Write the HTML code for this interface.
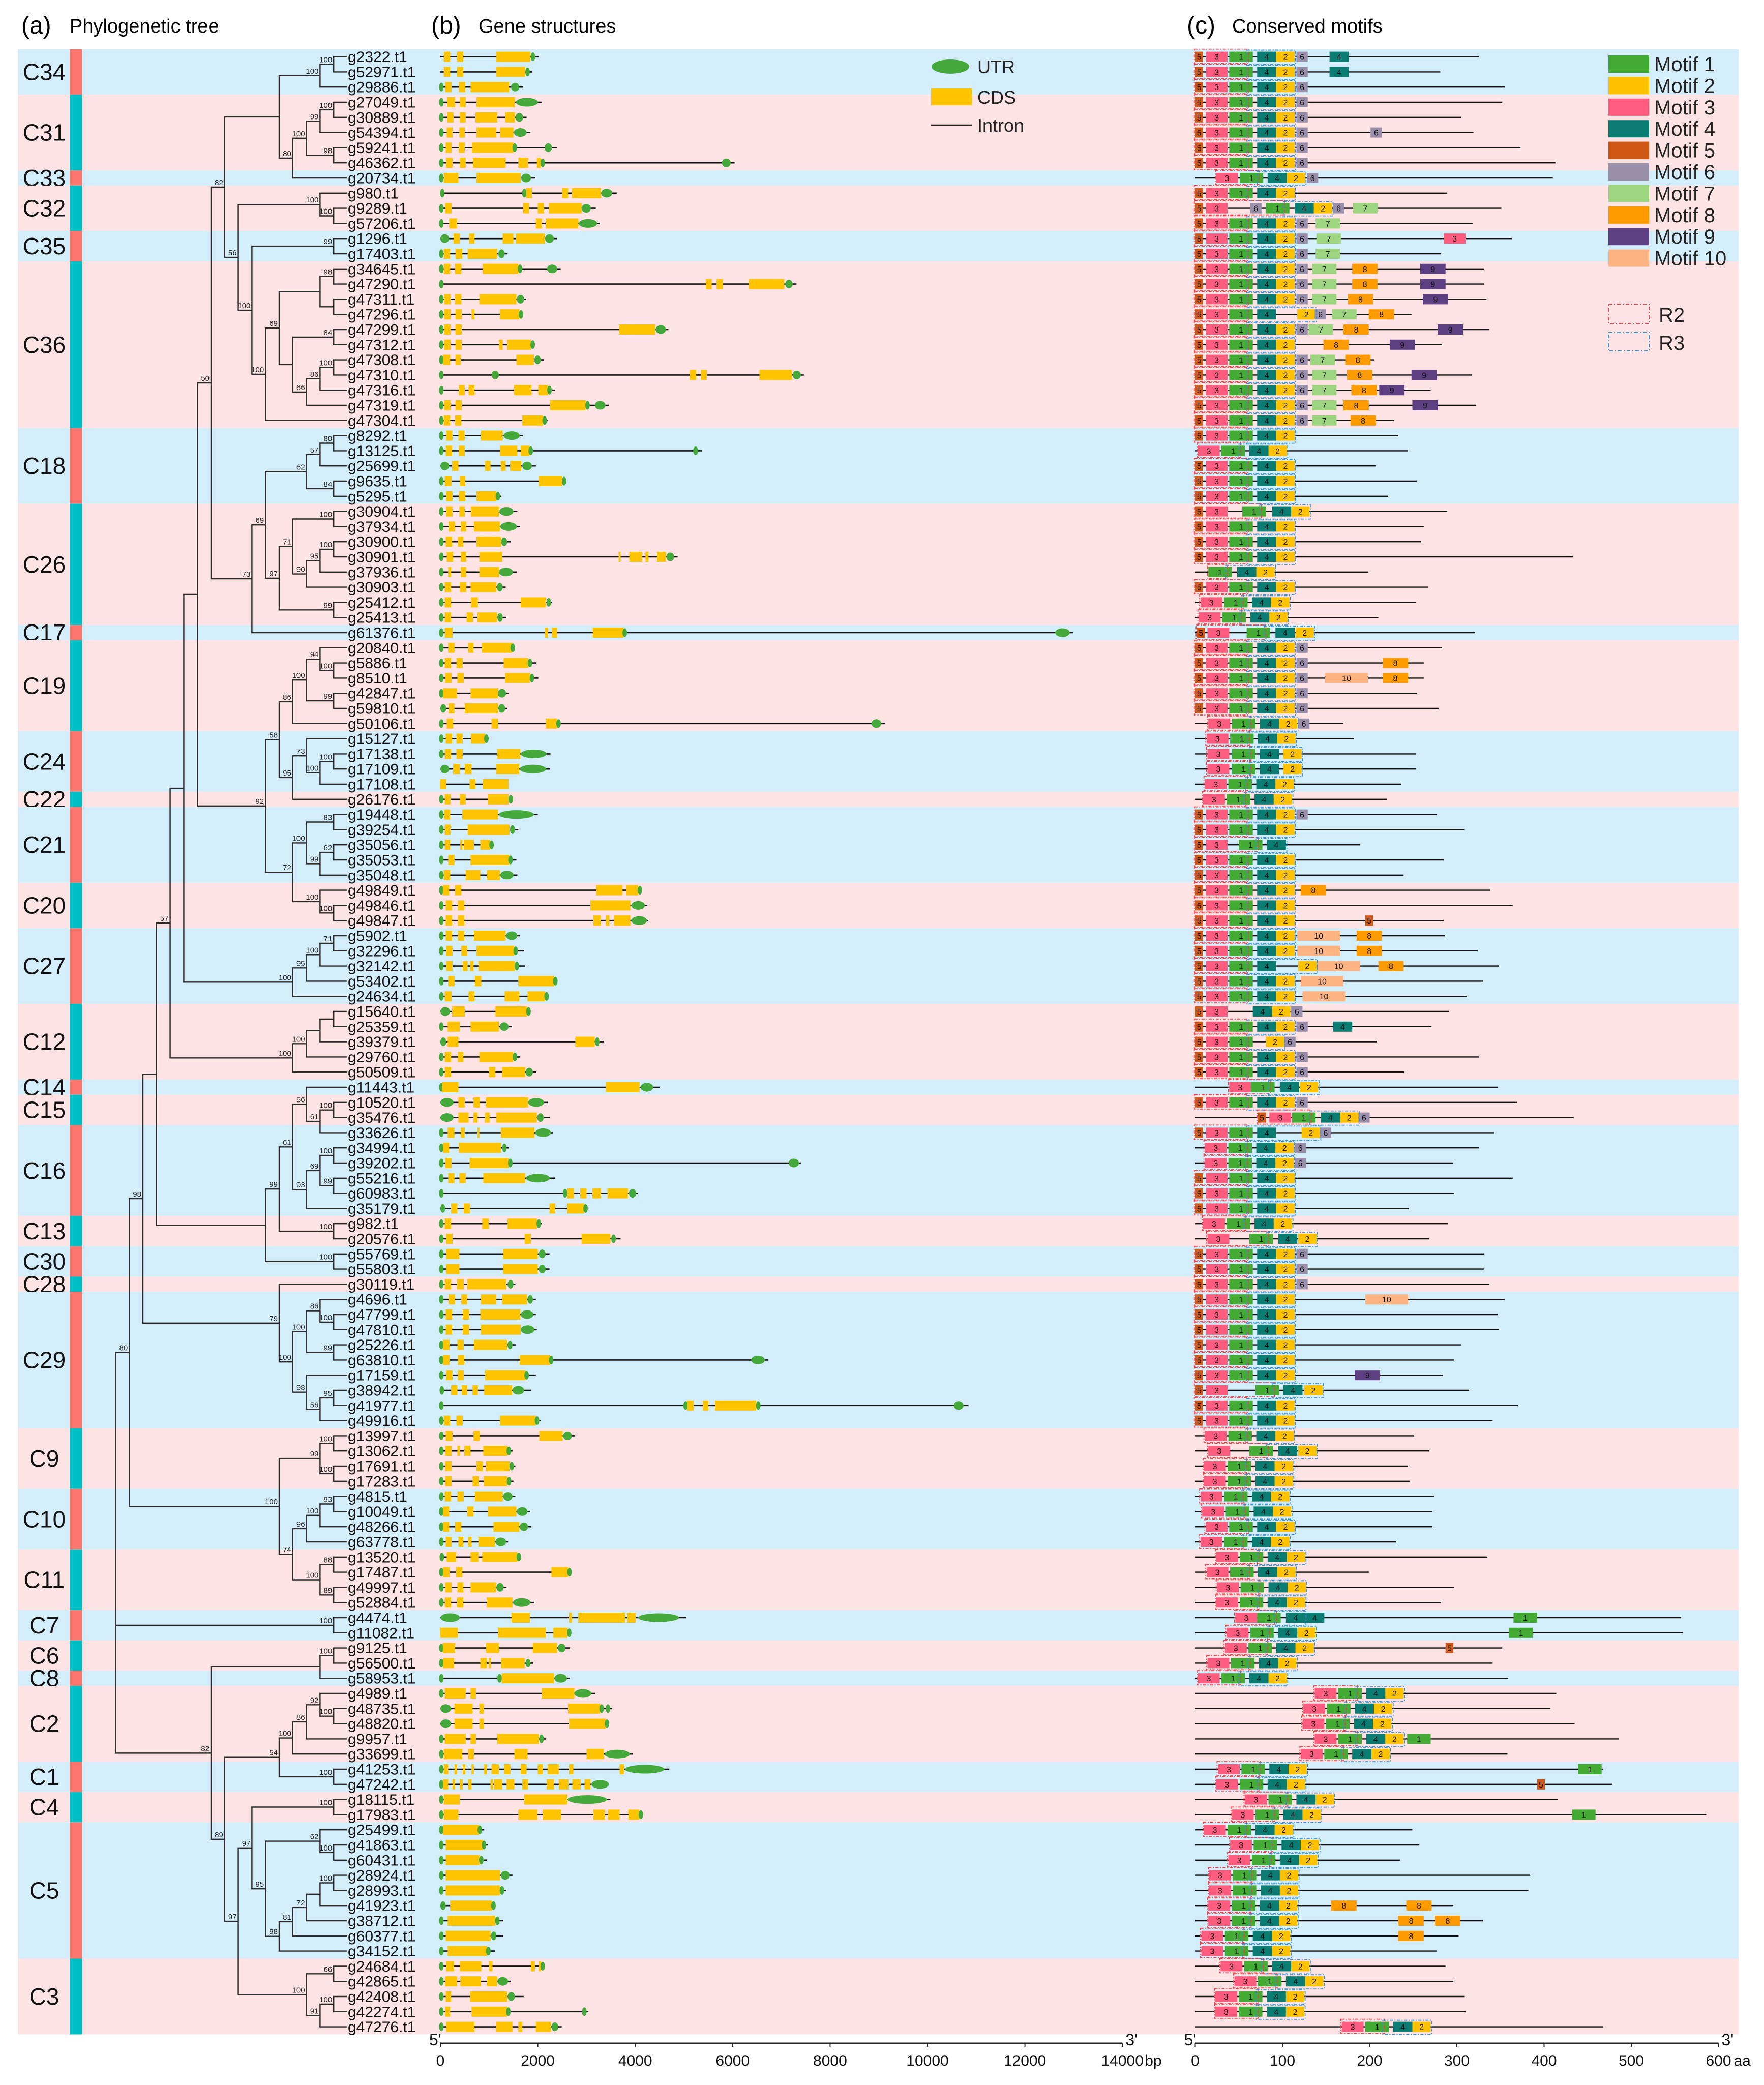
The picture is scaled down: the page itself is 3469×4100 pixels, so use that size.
<!DOCTYPE html>
<html><head><meta charset="utf-8"><title>Phylogeny, gene structures and motifs</title>
<style>
html,body{margin:0;padding:0;background:#fff;}
svg{display:block;font-family:"Liberation Sans",Arial,sans-serif;}
</style></head>
<body>
<svg id="chart" xmlns="http://www.w3.org/2000/svg" width="3469" height="4100" viewBox="0 0 3469 4100">
<g>
<text x="42" y="66" font-size="48">(a)</text>
<text x="137" y="64" font-size="38">Phylogenetic tree</text>
<text x="848" y="66" font-size="48">(b)</text>
<text x="941" y="64" font-size="38">Gene structures</text>
<text x="2334" y="66" font-size="48">(c)</text>
<text x="2423" y="64" font-size="38">Conserved motifs</text>
</g>
<g id="bands"></g><g id="tree"></g><g id="genes"></g><g id="motifs"></g><g id="axes"></g><g id="legends"></g>
</svg>
<script>
// ---------------- DATA ----------------
const cladeNames = ["C34","C31","C33","C32","C35","C36","C18","C26","C17","C19","C24","C22","C21","C20","C27","C12","C14","C15","C16","C13","C30","C28","C29","C9","C10","C11","C7","C6","C8","C2","C1","C4","C5","C3"];
const cladeSizes = [3,5,1,3,2,11,5,8,1,6,4,1,5,3,5,5,1,2,6,2,2,1,9,4,4,4,2,2,1,5,2,2,9,5];

const geneNames = ["g2322","g52971","g29886","g27049","g30889","g54394","g59241","g46362","g20734","g980","g9289","g57206","g1296","g17403","g34645","g47290","g47311","g47296","g47299","g47312","g47308","g47310","g47316","g47319","g47304","g8292","g13125","g25699","g9635","g5295","g30904","g37934","g30900","g30901","g37936","g30903","g25412","g25413","g61376","g20840","g5886","g8510","g42847","g59810","g50106","g15127","g17138","g17109","g17108","g26176","g19448","g39254","g35056","g35053","g35048","g49849","g49846","g49847","g5902","g32296","g32142","g53402","g24634","g15640","g25359","g39379","g29760","g50509","g11443","g10520","g35476","g33626","g34994","g39202","g55216","g60983","g35179","g982","g20576","g55769","g55803","g30119","g4696","g47799","g47810","g25226","g63810","g17159","g38942","g41977","g49916","g13997","g13062","g17691","g17283","g4815","g10049","g48266","g63778","g13520","g17487","g49997","g52884","g4474","g11082","g9125","g56500","g58953","g4989","g48735","g48820","g9957","g33699","g41253","g47242","g18115","g17983","g25499","g41863","g60431","g28924","g28993","g41923","g38712","g60377","g34152","g24684","g42865","g42408","g42274","g47276"];

// gene length (bp)
const geneLen = [2020,1890,1690,2080,1770,1850,2400,6040,1950,3620,3190,3270,2400,1380,2470,7310,1760,1700,4680,1920,2130,7460,2360,3460,2200,1690,5370,1960,2580,1250,1580,1640,1450,4870,1570,1340,2290,1350,12990,1520,1970,2010,1400,1370,9130,1000,2260,2250,1400,1470,2000,1600,1070,1560,1580,4120,4250,4270,1630,1720,1740,2380,2200,1830,1470,3350,1640,1970,4500,2210,2250,2310,1410,7400,2350,4060,3040,2080,3700,2240,2240,1540,1960,1960,1980,1550,6730,1960,1860,10840,2060,2760,1480,1540,1500,1540,1840,1860,1390,1640,2680,1360,1930,5050,2670,2660,1910,2660,3180,3530,3440,2170,3950,4700,3450,3490,4140,900,980,950,1480,1350,1110,1290,1290,1120,2150,1450,1710,3040,2490];

// gene features: u = UTR, c = CDS, start-end in bp
const geneFeatures = [
"c70-200 c340-470 c1150-1845 u1870-1930",
"c70-200 c340-470 c1150-1740 u1760-1820",
"u0-40 c100-230 c380-510 c620-1410 u1450-1620",
"u0-40 c140-300 c400-520 c740-1530 u1550-2000",
"u0-40 c140-270 c400-520 c720-1170 c1330-1530 u1540-1700",
"u0-40 c130-250 c390-500 c740-1150 c1230-1500 u1510-1770",
"u0-40 c110-230 c380-500 c650-1500 u1510-1540 u2140-2290",
"u0-40 c120-250 c400-520 c670-1340 c1600-1800 c1980-2060 u2090-2110 u5780-5960",
"u0-40 c70-370 c740-1650 u1660-1860",
"u0-80 u1700-1750 c1760-1880 c2500-2620 c2700-3300 u3300-3530",
"u0-40 c100-230 c1700-1820 c2000-2130 c2230-2900 u2900-3090",
"u0-40 c180-340 c1960-2080 c2160-2830 u2840-3220",
"u0-180 c270-400 c590-700 c1280-1500 c1550-2140 u2150-2330",
"u0-40 c70-200 c310-450 c560-1170 u1190-1320",
"u0-40 c70-200 c300-430 c870-1600 u1620-1650 u2190-2400",
"u0-40 c5450-5570 c5670-5800 c6330-7060 u7080-7230",
"u0-40 c80-210 c300-430 c800-1560 u1570-1720",
"u0-40 c80-210 c310-440 c640-700 c1220-1620 u1630-1680",
"u0-40 c80-210 c310-440 c3670-4410 u4420-4630",
"u0-40 c80-210 c310-440 c1200-1280 c1370-1860 u1880-1910",
"u0-40 c60-200 c310-420 c1560-1920 u1930-2060",
"u0-40 u1050-1200 c5120-5250 c5350-5470 c6550-7220 u7230-7400",
"u0-40 c380-500 c580-700 c1510-1870 c2010-2210 u2220-2260",
"u0-40 c80-210 c310-440 c2250-2980 u2990-3050 u3170-3390",
"u0-40 c70-200 c300-430 c1680-2100 u2120-2160",
"u0-40 c120-250 c370-500 c830-1280 u1300-1630",
"u0-40 c110-240 c380-500 c1230-1580 c1650-1830 u1840-1870 u5190-5290",
"u0-180 c240-370 c920-1030 c1240-1340 c1430-1660 u1680-1880",
"u0-40 c90-230 c400-510 c2020-2500 u2520-2560",
"u0-40 c120-250 c380-510 c740-1150 u1160-1200",
"u0-40 c120-250 c390-500 c630-1200 u1210-1500",
"u0-40 c170-300 c420-530 c690-1220 u1230-1570",
"u0-40 c110-240 c360-470 c740-1250 u1250-1370",
"u0-40 c130-260 c420-530 c800-1270 c3660-3700 c3880-4140 c4210-4270 c4450-4630 u4640-4800",
"u0-40 c160-220 c420-530 c800-1200 u1200-1490",
"u0-40 c90-220 c400-530 c620-1150 u1160-1280",
"u0-40 c90-220 c630-770 c1650-2160 u2180-2270",
"u0-40 c90-220 c540-670 c760-1160 u1170-1280",
"u0-40 c90-250 c2150-2210 c2290-2400 c3130-3760 u3770-3800 u12620-12920",
"u0-40 c160-290 c570-680 c850-1470 u1470-1500",
"u0-40 c90-220 c330-460 c1300-1800 u1800-1880",
"u0-40 c100-230 c350-480 c1330-1840 u1840-1920",
"u0-40 c60-340 c620-1180 u1180-1350",
"u0-120 c170-290 c500-1180 u1190-1330",
"u0-40 c130-260 c1050-1180 c2160-2390 u2410-2440 u8850-9050",
"u0-40 c110-240 c330-460 c630-920 u930-960",
"u0-40 c90-220 c330-460 c1170-1640 u1650-2180",
"u0-180 c260-400 c500-640 c1150-1620 u1630-2170",
"c0-120 c600-720 c870-1400",
"u0-40 c90-210 c400-520 c980-1400 u1420-1470",
"u0-40 c80-200 c450-1190 u1200-1920",
"u0-40 c90-210 c560-1420 u1430-1530",
"u0-40 c90-200 c410-450 c480-690 c820-1020 u1030-1070",
"u0-40 c160-290 c620-1410 u1420-1460",
"u0-40 c70-200 c520-820 c960-1220 u1230-1500",
"u0-40 c50-180 c300-430 c3200-3740 c3820-4060 u4070-4120",
"u0-40 c110-240 c360-490 c3080-3900 u3920-4200",
"u0-40 c110-240 c360-490 c3140-3290 c3400-3470 c3560-3900 u3920-4240",
"u0-40 c110-240 c360-490 c690-1340 u1350-1580",
"u0-40 c120-250 c430-550 c740-1510 u1520-1570",
"u0-40 c120-250 c460-560 c610-680 c780-1530 u1540-1600",
"u0-40 c160-290 c710-840 c1600-2330 u2340-2380",
"u0-40 c90-230 c580-700 c1320-1620 c1790-2150 u2160-2200",
"u0-200 c240-500 c1130-1780 u1790-1830",
"u0-40 c150-400 c620-1200 u1220-1400",
"u0-120 c150-370 c2770-3170 u3180-3260",
"u0-40 c90-220 c360-470 c800-1490 u1500-1560",
"u0-40 c90-220 c1000-1130 c1270-1740 u1750-1900",
"u0-40 c40-370 c3400-4090 u4110-4370",
"u0-270 c370-500 c680-810 c940-1800 u1800-2130",
"u0-270 c370-580 c680-760 c920-1010 c1150-1980 u1990-2120",
"u0-40 c150-290 c420-500 c760-800 c1240-1930 u1950-2270",
"u0-40 c60-180 c380-1250 u1270-1360",
"u0-40 c100-230 c600-1400 u1410-1460 u7150-7360",
"u0-40 c160-290 c390-520 c880-1740 u1760-2250",
"u0-40 u2540-2580 c2610-2740 c2870-3000 c3120-3300 c3430-3850 u3870-4020",
"u0-100 c220-350 c480-610 c2240-2360 c2600-2950 u2960-3000",
"u0-40 c90-220 c860-990 c1380-1980 u2000-2040",
"u0-40 c120-250 c1730-1860 c2900-3490 u3520-3590",
"u0-40 c120-390 c1290-2000 u2020-2160",
"u0-40 c120-390 c1290-2000 u2020-2160",
"u0-40 c90-220 c340-480 c550-1350 u1380-1500",
"u0-40 c170-300 c430-550 c830-1150 c1270-1780 u1790-1900",
"u0-40 c110-240 c460-590 c820-1640 u1650-1910",
"u0-40 c110-240 c460-590 c830-1650 u1650-1930",
"u0-40 c60-190 c350-480 c690-1370 u1380-1480",
"u0-40 c60-190 c360-490 c1630-2250 u2260-2290 u6380-6660",
"u0-40 c120-250 c360-480 c920-1750 u1760-1780",
"u0-60 c220-350 c440-550 c660-770 c900-1470 u1480-1720",
"u0-40 u5010-5060 c5070-5200 c5390-5500 c5640-6480 u6500-6550 u10540-10740",
"u0-40 c70-200 c330-460 c1220-1960 u1970-2000",
"u0-40 c110-250 c680-810 c2030-2510 u2520-2700",
"u0-40 c100-230 c350-400 c490-620 c880-1380 u1390-1420",
"u0-40 c100-230 c740-870 c930-1420 u1430-1500",
"u0-40 c100-230 c660-790 c890-1370 u1390-1430",
"u0-40 c90-220 c350-480 c710-1280 u1290-1480",
"u0-40 c60-180 c550-680 c980-1560 u1570-1790",
"u0-40 c60-180 c300-430 c1090-1620 u1630-1800",
"u0-40 c110-230 c370-470 c570-640 c780-1120 u1130-1350",
"u0-60 c130-320 c620-780 c860-1580 u1590-1630",
"u0-40 c60-190 c320-450 c2280-2620 u2630-2670",
"u0-40 c100-230 c350-470 c620-1140 u1150-1300",
"u0-40 c90-220 c340-470 c950-1480 u1490-1850",
"u0-400 c1460-1840 c2640-2700 c2830-3790 c3830-4010 u4060-4900",
"c0-360 c1190-2160 c2320-2610 u2620-2670",
"u0-40 c50-300 c940-1200 c1900-2400 u2410-2570",
"u0-40 c60-280 c820-950 c990-1040 c1250-1730 u1750-1850",
"u0-40 u1190-1240 c1260-2330 u2340-2600",
"u0-40 c90-520 c620-730 c2080-2750 u2750-3100",
"u0-220 c290-660 c800-890 c2620-3280 u3290-3330 u3420-3460",
"u0-220 c290-660 c800-890 c2640-3390 u3400-3440",
"u0-40 c90-520 c620-730 c1170-2020 u2030-2120",
"u0-40 c70-450 c570-690 c1520-1790 c3000-3360 u3370-3890",
"u0-40 c70-160 c290-340 c460-510 c640-690 c900-960 c1050-1200 c1310-1440 c1650-1770 c2000-2100 c2200-2430 c2640-2730 c3680-3770 u3790-4600",
"u0-40 c60-160 c250-300 c400-460 c570-640 c1030-1080 c1100-1270 c1360-1520 c1680-1800 c2180-2330 c2430-2630 c2710-2880 c2960-3080 u3100-3460",
"u0-40 c70-400 c1720-2600 u2610-3420",
"u0-40 c70-370 c1600-1990 c2100-2480 c3140-3380 c3440-3680 c3860-4080 u4090-4140",
"u0-40 c60-790 u800-820",
"u0-40 c110-870 u880-910",
"u0-40 c110-800 u810-870",
"u0-40 c110-1230 u1240-1420",
"u0-40 c110-1220 u1230-1300",
"u0-110 c200-1060 u1070-1110",
"u0-40 c150-1130 u1140-1200",
"u0-40 c110-1030 u1040-1150",
"u0-40 c150-960 u970-1000",
"u0-40 c120-280 c400-840 c1000-1070 c1860-1940 c2020-2070 u2080-2120",
"u0-40 c100-340 c410-830 c960-1160 u1170-1390",
"u0-40 c110-220 c610-1370 u1380-1530",
"u0-40 c100-200 c640-1370 u1380-1410 u2910-3000",
"u0-40 c120-700 c1140-1480 c1600-1680 c1960-2270 u2280-2420"
];

// protein length (aa)
const protLen = [325,281,355,352,305,319,373,413,410,289,351,318,363,282,331,331,334,248,337,283,205,317,270,322,228,233,244,207,254,221,289,262,259,433,198,267,253,210,321,283,262,262,254,279,170,182,253,253,236,220,277,309,189,285,239,338,364,285,286,324,348,330,311,291,271,208,325,240,347,369,434,343,325,296,364,297,245,290,268,331,331,337,355,347,348,305,297,284,314,370,341,251,268,244,246,274,272,272,230,335,199,297,282,557,559,352,341,359,414,407,435,486,358,468,478,416,586,249,257,235,384,382,296,330,302,277,287,296,309,310,468];

// motif layout: "k@start" ; S = motif5 + core at 12 ; S6 = S + motif6 ; Cn = motifs 3,1,4,2 from position n
const motifSpec = ["S6 4@154","S6 4@154","S6","S6","S6","S6 6@201","S6","S6","C24 6@128","S",
"5@0 3@12 6@63 1@81 4@114 2@136 6@158 7@181","S6 7@138","S6 7@139 3@285","S6 7@138","S6 7@134 8@180 9@258","S6 7@134 8@180 9@258","S6 7@134 8@175 9@261","5@0 3@12 1@39 4@71 2@117 6@137 7@157 8@199","S6 7@130 8@170 9@278","S 8@147 9@223",
"S6 7@132 8@172","S6 7@134 8@174 9@248","S6 7@134 8@179 9@211","S6 7@134 8@170 9@249","S6 7@134 8@178","S","C3","S","S","S",
"5@0 3@12 1@54 4@88 2@110","S","S","S","1@15 4@48 2@70","S","C6","C4","5@2 3@14 1@59 4@92 2@115","S6",
"S6 8@215","S6 10@149 8@215","S6","S6","C15 6@118","C13","3@14 1@42 4@74 2@101","3@14 1@42 4@74 2@101","C11","C9",
"S6","S","5@0 3@12 1@50 4@82","S","S","S 8@121","S","S 5@195","S 10@117 8@185","S 10@117 8@185",
"5@0 3@12 1@39 4@71 2@118 10@140 8@210","S 10@121","S 10@123","5@0 3@12 4@66 2@88 6@110","S6 4@158","5@0 3@12 1@39 2@81 6@102","S6","S6","3@39 1@64 4@97 2@120","S6",
"5@72 3@85 1@111 4@144 2@166 6@187","5@0 3@12 1@39 4@71 2@122 6@143","C11 6@114","C11 6@114","S","S","S","C9","3@14 1@62 4@95 2@118","S6",
"S6","S6","S 10@195","S","S","S","S","S 9@183","5@0 3@12 1@69 4@101 2@125","S",
"S","C11","3@15 1@62 4@95 2@118","C10","C10","C6","C8","C12","C6","C24",
"C13","C25","C24","3@46 1@71 4@104 4@126 1@365","C36 1@360","C34 5@287","C14","C3","C137","C124",
"C123","C137 1@243","C121","C26 1@439","C24 5@392","C57","C42 1@432","C10","C40","C38",
"C16","C16","C15 8@156 8@242","C15 8@233 8@275","C7 8@233","C7","C29","C45","C23","C23","C168"];

const motifIds = [1,2,3,4,5,6,7,8,9,10];
const motifWidths = [27,21,25,22,9,13,28,29,29,49];
const motifColors = ["#44ab35","#fec200","#fd5c7e","#0b7c72","#d05816","#9a8fab","#9dd47f","#fd9b00","#5e3f82","#fdb382"];

const geneTicks = [0,2000,4000,6000,8000,10000,12000,14000];
const motifTicks = [0,100,200,300,400,500,600];

// tree: [bootstrap, child, child, ...]; leaves are gene names
const C34 = [100,[100,"g2322","g52971"],"g29886"];
const C31_33 = [80,[100,[99,[100,"g27049","g30889"],"g54394"],[98,"g59241","g46362"]],"g20734"];
const C32 = [100,"g980",[100,"g9289","g57206"]];
const C35 = [99,"g1296","g17403"];
const C36a = [69,[null,[98,"g34645","g47290"],[null,"g47311","g47296"]],[null,[84,"g47299","g47312"],[66,[86,[100,"g47308","g47310"],"g47316"],"g47319"]]];
const N654 = [82,[null,C34,C31_33],[56,C32,[100,C35,[100,C36a,"g47304"]]]];
const C18 = [62,[57,[80,"g8292","g13125"],"g25699"],[84,"g9635","g5295"]];
const C26 = [97,[71,[100,"g30904","g37934"],[90,[95,[100,"g30900","g30901"],"g37936"],"g30903"]],[99,"g25412","g25413"]];
const N724 = [50,N654,[73,[69,C18,C26],"g61376"]];
const C19 = [86,[100,[94,"g20840",[100,"g5886","g8510"]],[99,"g42847","g59810"]],"g50106"];
const C24_22 = [95,[73,"g15127",[100,[100,"g17138","g17109"],"g17108"]],"g26176"];
const C21_20 = [72,[100,[83,"g19448","g39254"],[99,[62,"g35056","g35053"],"g35048"]],[100,"g49849",[100,"g49846","g49847"]]];
const C27 = [100,[95,[100,[71,"g5902","g32296"],"g32142"],"g53402"],"g24634"];
const C12 = [100,[100,[null,[null,"g15640","g25359"],"g39379"],"g29760"],"g50509"];
const N586 = [57,[null,[null,N724,[92,[58,C19,C24_22],C21_20]],C27],C12];
const C14_16 = [61,[56,"g11443",[61,[100,"g10520","g35476"],"g33626"]],[93,[69,[100,"g34994","g39202"],[99,"g55216","g60983"]],"g35179"]];
const N832b = [null,[99,C14_16,[100,"g982","g20576"]],[100,"g55769","g55803"]];
const C28_29 = [79,"g30119",[100,[100,[86,"g4696",[100,"g47799","g47810"]],[99,"g25226","g63810"]],[98,"g17159",[56,[95,"g38942","g41977"],"g49916"]]]];
const C9_11 = [100,[99,[100,"g13997","g13062"],[100,"g17691","g17283"]],[74,[96,[100,[93,"g4815","g10049"],"g48266"],"g63778"],[100,[88,"g13520","g17487"],[89,"g49997","g52884"]]]];
const C2_1 = [54,[100,[86,[92,"g4989",[100,"g48735","g48820"]],"g9957"],"g33699"],[100,"g41253","g47242"]];
const C5 = [95,[62,"g25499",[100,"g41863","g60431"]],[98,[81,[72,[null,[100,"g28924","g28993"],"g41923"],"g38712"],"g60377"],"g34152"]];
const C3 = [100,[66,"g24684","g42865"],[91,[100,"g42408","g42274"],"g47276"]];
const treeRoot = [null,[80,[98,[null,N586,N832b],C28_29],C9_11],[100,"g4474","g11082"],[82,[null,[100,"g9125","g56500"],"g58953"],[89,C2_1,[97,[97,[100,"g18115","g17983"],C5],C3]]]];

// ---------------- DRAWING ----------------
const NS = "http://www.w3.org/2000/svg";
function mk(tag, attrs, parent){
  const e = document.createElementNS(NS, tag);
  for (const k in attrs) e.setAttribute(k, attrs[k]);
  parent.appendChild(e);
  return e;
}
const rowY = i => 111.6 + 29.8*i;
const gx = bp => 866 + bp*0.0958;
const mx = aa => 2350.5 + aa*1.715;
const BAND_X0 = 35, BAND_X1 = 3419;

// bands & clade labels
const gB = document.getElementById("bands");
let start = 0;
cladeNames.forEach((cn, k) => {
  const n = cladeSizes[k];
  const y0 = rowY(start) - 14.9, y1 = rowY(start+n-1) + 14.9;
  const blue = k % 2 === 0;
  const band = mk("rect", {x:BAND_X0, y:y0, width:BAND_X1-BAND_X0, height:y1-y0, fill: blue ? "#d4edfb" : "#fde3e4"}, gB);
  
  
  const strip = mk("rect", {x:137, y:y0, width:24, height:y1-y0, fill: blue ? "#f8766d" : "#00bfc4"}, gB);
  
  
  const t = mk("text", {x:87, y:(y0+y1)/2 + 16, "font-size":46, "text-anchor":"middle", fill:"#111"}, gB);
  t.textContent = cn;
  
  
  start += n;
});

// tree
const gT = document.getElementById("tree");
const TIP_X = 683, STEP = 26.8;
function height(node){ if (typeof node === "string") return 0; let h = 0; for (let i=1;i<node.length;i++) h = Math.max(h, height(node[i])); return h+1; }
function layout(node){
  if (typeof node === "string") { return {x:TIP_X, y:rowY(geneNames.indexOf(node))}; }
  const kids = [];
  for (let i=1;i<node.length;i++) kids.push(layout(node[i]));
  const x = TIP_X - STEP*height(node);
  const ys = kids.map(k=>k.y);
  const y = ys.reduce((a,b)=>a+b,0)/ys.length;
  const v = mk("line", {x1:x, x2:x, y1:Math.min(...ys), y2:Math.max(...ys), stroke:"#2b2b2b", "stroke-width":2.4}, gT);
  
  
  kids.forEach(k => {
    const h = mk("line", {x1:x-1.2, x2:k.x, y1:k.y, y2:k.y, stroke:"#2b2b2b", "stroke-width":2.4}, gT);
    
    
  });
  if (node[0] !== null) {
    const t = mk("text", {x:x-3, y:y-4, "font-size":15, "text-anchor":"end", fill:"#222"}, gT);
    t.textContent = node[0];
    
    
  }
  return {x, y};
}
layout(treeRoot);

// gene labels + gene structures
const gG = document.getElementById("genes");
geneNames.forEach((g, i) => {
  const y = rowY(i);
  const lab = mk("text", {x:684, y:y+10.5, "font-size":30, fill:"#111"}, gG);
  lab.textContent = g + ".t1";
  
  
  const line = mk("line", {x1:gx(0), x2:gx(geneLen[i]), y1:y, y2:y, stroke:"#111", "stroke-width":2.6}, gG);
  
  
  geneFeatures[i].split(" ").forEach(tok => {
    const type = tok[0];
    const [a, b] = tok.slice(1).split("-").map(Number);
    if (type === "c") {
      const r = mk("rect", {x:gx(a), y:y-10, width:Math.max(gx(b)-gx(a),2), height:20, fill:"#fec400"}, gG);
      
      
    } else {
      const cx = (gx(a)+gx(b))/2;
      const e = mk("ellipse", {cx:cx, cy:y, rx:Math.max((gx(b)-gx(a))/2, 4.5), ry:8.5, fill:"#45a83a"}, gG);
      
      
    }
  });
});

// motifs
const gM = document.getElementById("motifs");
function expandSpec(spec){
  const out = [];
  spec.split(" ").forEach(tok => {
    if (tok === "S") { out.push([5,0]); expandCore(12, out); }
    else if (tok === "S6") { out.push([5,0]); expandCore(12, out); out.push([6,116]); }
    else if (tok[0] === "C") { expandCore(Number(tok.slice(1)), out); }
    else { const [m,p] = tok.split("@").map(Number); out.push([m,p]); }
  });
  return out;
}
function expandCore(n, out){ out.push([3,n]); out.push([1,n+27]); out.push([4,n+59]); out.push([2,n+81]); }

geneNames.forEach((g, i) => {
  const y = rowY(i);
  const line = mk("line", {x1:mx(0), x2:mx(protLen[i]), y1:y, y2:y, stroke:"#111", "stroke-width":2.4}, gM);
  
  
  const ms = expandSpec(motifSpec[i]);
  ms.forEach(([m, p]) => {
    const w = motifWidths[m-1];
    const r = mk("rect", {x:mx(p), y:y-10, width:w*1.715, height:20, fill:motifColors[m-1]}, gM);
    
    
    const t = mk("text", {x:mx(p + w/2), y:y+6, "font-size":16, "text-anchor":"middle", fill:"#111"}, gM);
    t.textContent = m;
    
    
  });
  // R2 / R3 dashed region boxes
  const find = m => { const f = ms.find(e => e[0]===m); return f ? f[1] : null; };
  const p5 = find(5), p3 = find(3), p1 = find(1), p4 = find(4), p2 = find(2);
  if (p1 !== null && p1 < 300) {
    let s2 = (p5 !== null && p5 < 100) ? p5 : (p3 !== null && p3 < p1 ? p3 : p1);
    const r2 = mk("rect", {x:mx(s2-1), y:y-15, width:mx(p1+22)-mx(s2-1), height:28, fill:"none", stroke:"#e8414a", "stroke-width":1.8, "stroke-dasharray":"6 3 2 3"}, gM);
    
    
    let e3 = p2 !== null && p2 < 300 ? p2 + 22 : (p4 !== null ? p4 + 23 : p1 + 40);
    const r3 = mk("rect", {x:mx(p1+20), y:y-13, width:mx(e3)-mx(p1+20), height:28, fill:"none", stroke:"#3a8fcf", "stroke-width":1.8, "stroke-dasharray":"6 3 2 3"}, gM);
    
    
  }
});

// axes
const gA = document.getElementById("axes");
const AX_Y = 4018;
const gl = mk("line", {x1:gx(0), x2:gx(14000), y1:AX_Y, y2:AX_Y, stroke:"#222", "stroke-width":3}, gA);


geneTicks.forEach(v => {
  const tk = mk("line", {x1:gx(v), x2:gx(v), y1:AX_Y, y2:AX_Y+7, stroke:"#222", "stroke-width":2}, gA);
  
  
  const t = mk("text", {x:gx(v), y:AX_Y+44, "font-size":30, "text-anchor":"middle", fill:"#111"}, gA);
  t.textContent = v;
  
  
});
const ml = mk("line", {x1:mx(0), x2:mx(600), y1:AX_Y, y2:AX_Y, stroke:"#222", "stroke-width":3}, gA);


motifTicks.forEach(v => {
  const tk = mk("line", {x1:mx(v), x2:mx(v), y1:AX_Y, y2:AX_Y+7, stroke:"#222", "stroke-width":2}, gA);
  
  
  const t = mk("text", {x:mx(v), y:AX_Y+44, "font-size":30, "text-anchor":"middle", fill:"#111"}, gA);
  t.textContent = v;
  
  
});
[[gx(0)-22,"5'"],[gx(14000)+6,"3'"],[mx(0)-22,"5'"],[mx(600)+6,"3'"]].forEach(([x,s]) => {
  const t = mk("text", {x:x, y:AX_Y+4, "font-size":32, fill:"#111"}, gA);
  t.textContent = s;
  
  
});
const bpT = mk("text", {x:gx(14000)+44, y:AX_Y+44, "font-size":30, fill:"#111"}, gA);
bpT.textContent = "bp";


const aaT = mk("text", {x:mx(600)+30, y:AX_Y+44, "font-size":30, fill:"#111"}, gA);
aaT.textContent = "aa";



// legends
const gL = document.getElementById("legends");
const u = mk("ellipse", {cx:1869, cy:131, rx:37, ry:14, fill:"#45a83a"}, gL);


const c = mk("rect", {x:1831, y:174, width:80, height:33, fill:"#fec400"}, gL);


const il = mk("line", {x1:1831, x2:1911, y1:246, y2:246, stroke:"#222", "stroke-width":2.5}, gL);


[["UTR",144],["CDS",204],["Intron",259]].forEach(([s,y]) => {
  const t = mk("text", {x:1922, y:y, "font-size":36, fill:"#222"}, gL);
  t.textContent = s;
  
  
});
motifIds.forEach((m, k) => {
  const top = 109 + 42.4*k;
  const r = mk("rect", {x:3163, y:top, width:80, height:34, fill:motifColors[k]}, gL);
  
  
  const t = mk("text", {x:3253, y:top+31, "font-size":40, fill:"#222"}, gL);
  t.textContent = "Motif " + m;
  
  
});
const r2l = mk("rect", {x:3163, y:598, width:80, height:38, fill:"none", stroke:"#e8414a", "stroke-width":2, "stroke-dasharray":"7 4 2 4"}, gL);


const r3l = mk("rect", {x:3163, y:654, width:80, height:36, fill:"none", stroke:"#3a8fcf", "stroke-width":2, "stroke-dasharray":"7 4 2 4"}, gL);


const r2t = mk("text", {x:3262, y:633, "font-size":40, fill:"#222"}, gL);
r2t.textContent = "R2";


const r3t = mk("text", {x:3262, y:688, "font-size":40, fill:"#222"}, gL);
r3t.textContent = "R3";


</script>
</body></html>
